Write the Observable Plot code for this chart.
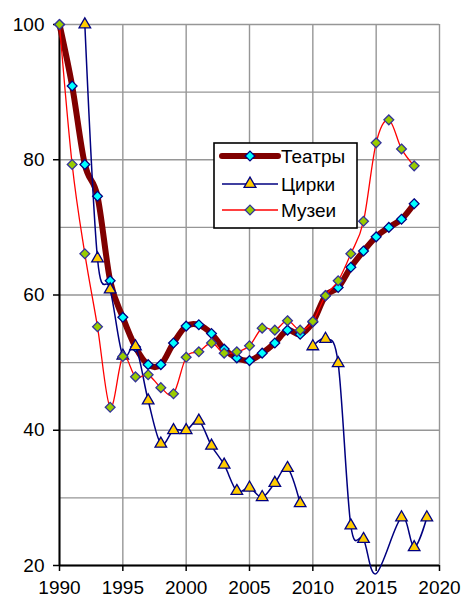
<!DOCTYPE html>
<html>
<head>
<meta charset="utf-8">
<script src="https://cdn.jsdelivr.net/npm/d3@7"></script>
<script src="https://cdn.jsdelivr.net/npm/@observablehq/plot@0.6"></script>
<style>
  html, body { margin: 0; padding: 0; background: #fff; }
  #wrap { position: relative; width: 462px; height: 596px; overflow: hidden; }
  #legend { position: absolute; left: 213px; top: 142px; }
</style>
</head>
<body>
<div id="wrap"></div>
<script>
// ---- Data (index, 1990 = 100) ----
const theatreYears = [1990,1991,1992,1993,1994,1995,1996,1997,1998,1999,2000,2001,2002,2003,2004,2005,2006,2007,2008,2009,2010,2011,2012,2013,2014,2015,2016,2017,2018];
const theatreValues = [100,90.9,79.3,74.6,62.1,56.7,52.3,49.7,49.7,52.9,55.4,55.6,54.3,52.0,50.7,50.3,51.4,52.9,54.8,54.2,56.0,59.9,61.1,64.1,66.5,68.6,70.0,71.2,73.5];

const circusYears = [1992,1993,1994,1995,1996,1997,1998,1999,2000,2001,2002,2003,2004,2005,2006,2007,2008,2009,2010,2011,2012,2013,2014,2015,2017,2018,2019];
const circusValues = [100,65.4,60.8,51.0,52.4,44.4,38.0,40.0,40.0,41.4,37.7,34.9,31.0,31.5,30.1,32.2,34.4,29.2,52.4,53.5,49.9,25.9,23.9,18.8,27.1,22.7,27.1];
const circusSegment = [1,1,1,1,1,1,1,1,1,1,1,1,1,1,1,1,1,1,2,2,2,2,2,2,2,2,2];

const museumYears = [1990,1991,1992,1993,1994,1995,1996,1997,1998,1999,2000,2001,2002,2003,2004,2005,2006,2007,2008,2009,2010,2011,2012,2013,2014,2015,2016,2017,2018];
const museumValues = [100,79.3,66.1,55.3,43.4,50.9,47.9,48.2,46.3,45.4,50.8,51.6,52.9,51.4,51.6,52.5,55.1,54.8,56.2,54.8,56.1,59.9,62.1,66.1,70.9,82.5,85.9,81.6,79.1];

const seriesNames = ["Театры", "Цирки", "Музеи"];
const xTicks = [1990,1995,2000,2005,2010,2015,2020];
const yTicks = [20,40,60,80,100];
const yGrid = [20,30,40,50,60,70,80,90,100];

// ---- Tables ----
const theatres = theatreYears.map((year, i) => ({year, value: theatreValues[i]}));
const circus = circusYears.map((year, i) => ({year, value: circusValues[i], seg: circusSegment[i]}));
const museums = museumYears.map((year, i) => ({year, value: museumValues[i]}));

const yMin = 20;
const FONT = "'Liberation Sans', Arial, sans-serif";

const chart = Plot.plot({
  width: 462,
  height: 596,
  marginLeft: 59,
  marginRight: 23,
  marginTop: 24,
  marginBottom: 31,
  style: { fontFamily: FONT, fontSize: "19px", color: "#000", background: "#fff", overflow: "visible" },
  x: { domain: [1990, 2020], label: null },
  y: { domain: [20, 100], label: null },
  marks: [
    Plot.gridY(yGrid, { stroke: "#969696", strokeOpacity: 1, strokeWidth: 1.4 }),
    Plot.gridX(xTicks, { stroke: "#969696", strokeOpacity: 1, strokeWidth: 1.4 }),
    Plot.axisY({ ticks: yTicks, label: null, tickSize: 6, tickPadding: 9, stroke: "#000", strokeWidth: 1.5, fill: "#000", fontSize: 19 }),
    Plot.axisX({ ticks: xTicks, label: null, tickSize: 6, tickPadding: 9, tickFormat: d => String(d), stroke: "#000", strokeWidth: 1.5, fill: "#000", fontSize: 19 }),
    Plot.ruleX([1990], { stroke: "#000", strokeWidth: 2 }),
    Plot.ruleY([20], { stroke: "#000", strokeWidth: 2 }),

    // Theatres
    Plot.line(theatres, { x: "year", y: "value", stroke: "#800000", strokeWidth: 6, curve: "cardinal" }),
    Plot.dot(theatres, { x: "year", y: "value", symbol: "diamond2", r: 4.4, fill: "#00FFFF", stroke: "#000080", strokeWidth: 1.3 }),

    // Circus
    Plot.line(circus, { x: "year", y: "value", z: "seg", stroke: "#000080", strokeWidth: 1.5, curve: "cardinal" }),
    Plot.dot(circus.filter(d => d.value >= yMin), { x: "year", y: "value", symbol: "triangle", r: 4.3, fill: "#FFCC00", stroke: "#000080", strokeWidth: 1.3 }),

    // Museums
    Plot.line(museums, { x: "year", y: "value", stroke: "#FF0000", strokeWidth: 1.3, curve: "cardinal" }),
    Plot.dot(museums, { x: "year", y: "value", symbol: "diamond2", r: 4.4, fill: "#99CC00", stroke: "#333399", strokeWidth: 1.3 })
  ]
});

const wrap = document.getElementById("wrap");
wrap.appendChild(chart);

// ---- Legend (overlay inside plot area) ----
const legendItems = [
  { name: seriesNames[0], stroke: "#800000", sw: 6, symbol: d3.symbolDiamond2, fill: "#00FFFF", mstroke: "#000080" },
  { name: seriesNames[1], stroke: "#000080", sw: 1.5, symbol: d3.symbolTriangle, fill: "#FFCC00", mstroke: "#000080" },
  { name: seriesNames[2], stroke: "#FF0000", sw: 1.3, symbol: d3.symbolDiamond2, fill: "#99CC00", mstroke: "#333399" }
];
const lg = d3.create("svg")
  .attr("id", "legend")
  .attr("width", 146)
  .attr("height", 88)
  .style("font-family", FONT)
  .style("font-size", "19px");
lg.append("rect").attr("x", 1).attr("y", 1).attr("width", 143).attr("height", 85)
  .attr("fill", "#fff").attr("stroke", "#000").attr("stroke-width", 1.6);
const rowY = [14, 42, 68];
legendItems.forEach((it, i) => {
  const g = lg.append("g").attr("transform", `translate(0,${rowY[i]})`);
  g.append("line").attr("x1", 9).attr("x2", 65).attr("y1", 0).attr("y2", 0)
    .attr("stroke", it.stroke).attr("stroke-width", it.sw).attr("stroke-linecap", it.sw > 3 ? "round" : "butt");
  g.append("path").attr("transform", "translate(37,0)")
    .attr("d", d3.symbol(it.symbol, Math.PI * 4.4 * 4.4)())
    .attr("fill", it.fill).attr("stroke", it.mstroke).attr("stroke-width", 1.3);
  g.append("text").attr("x", 68).attr("y", 7).attr("fill", "#000").text(it.name);
});
wrap.appendChild(lg.node());
</script>
</body>
</html>
